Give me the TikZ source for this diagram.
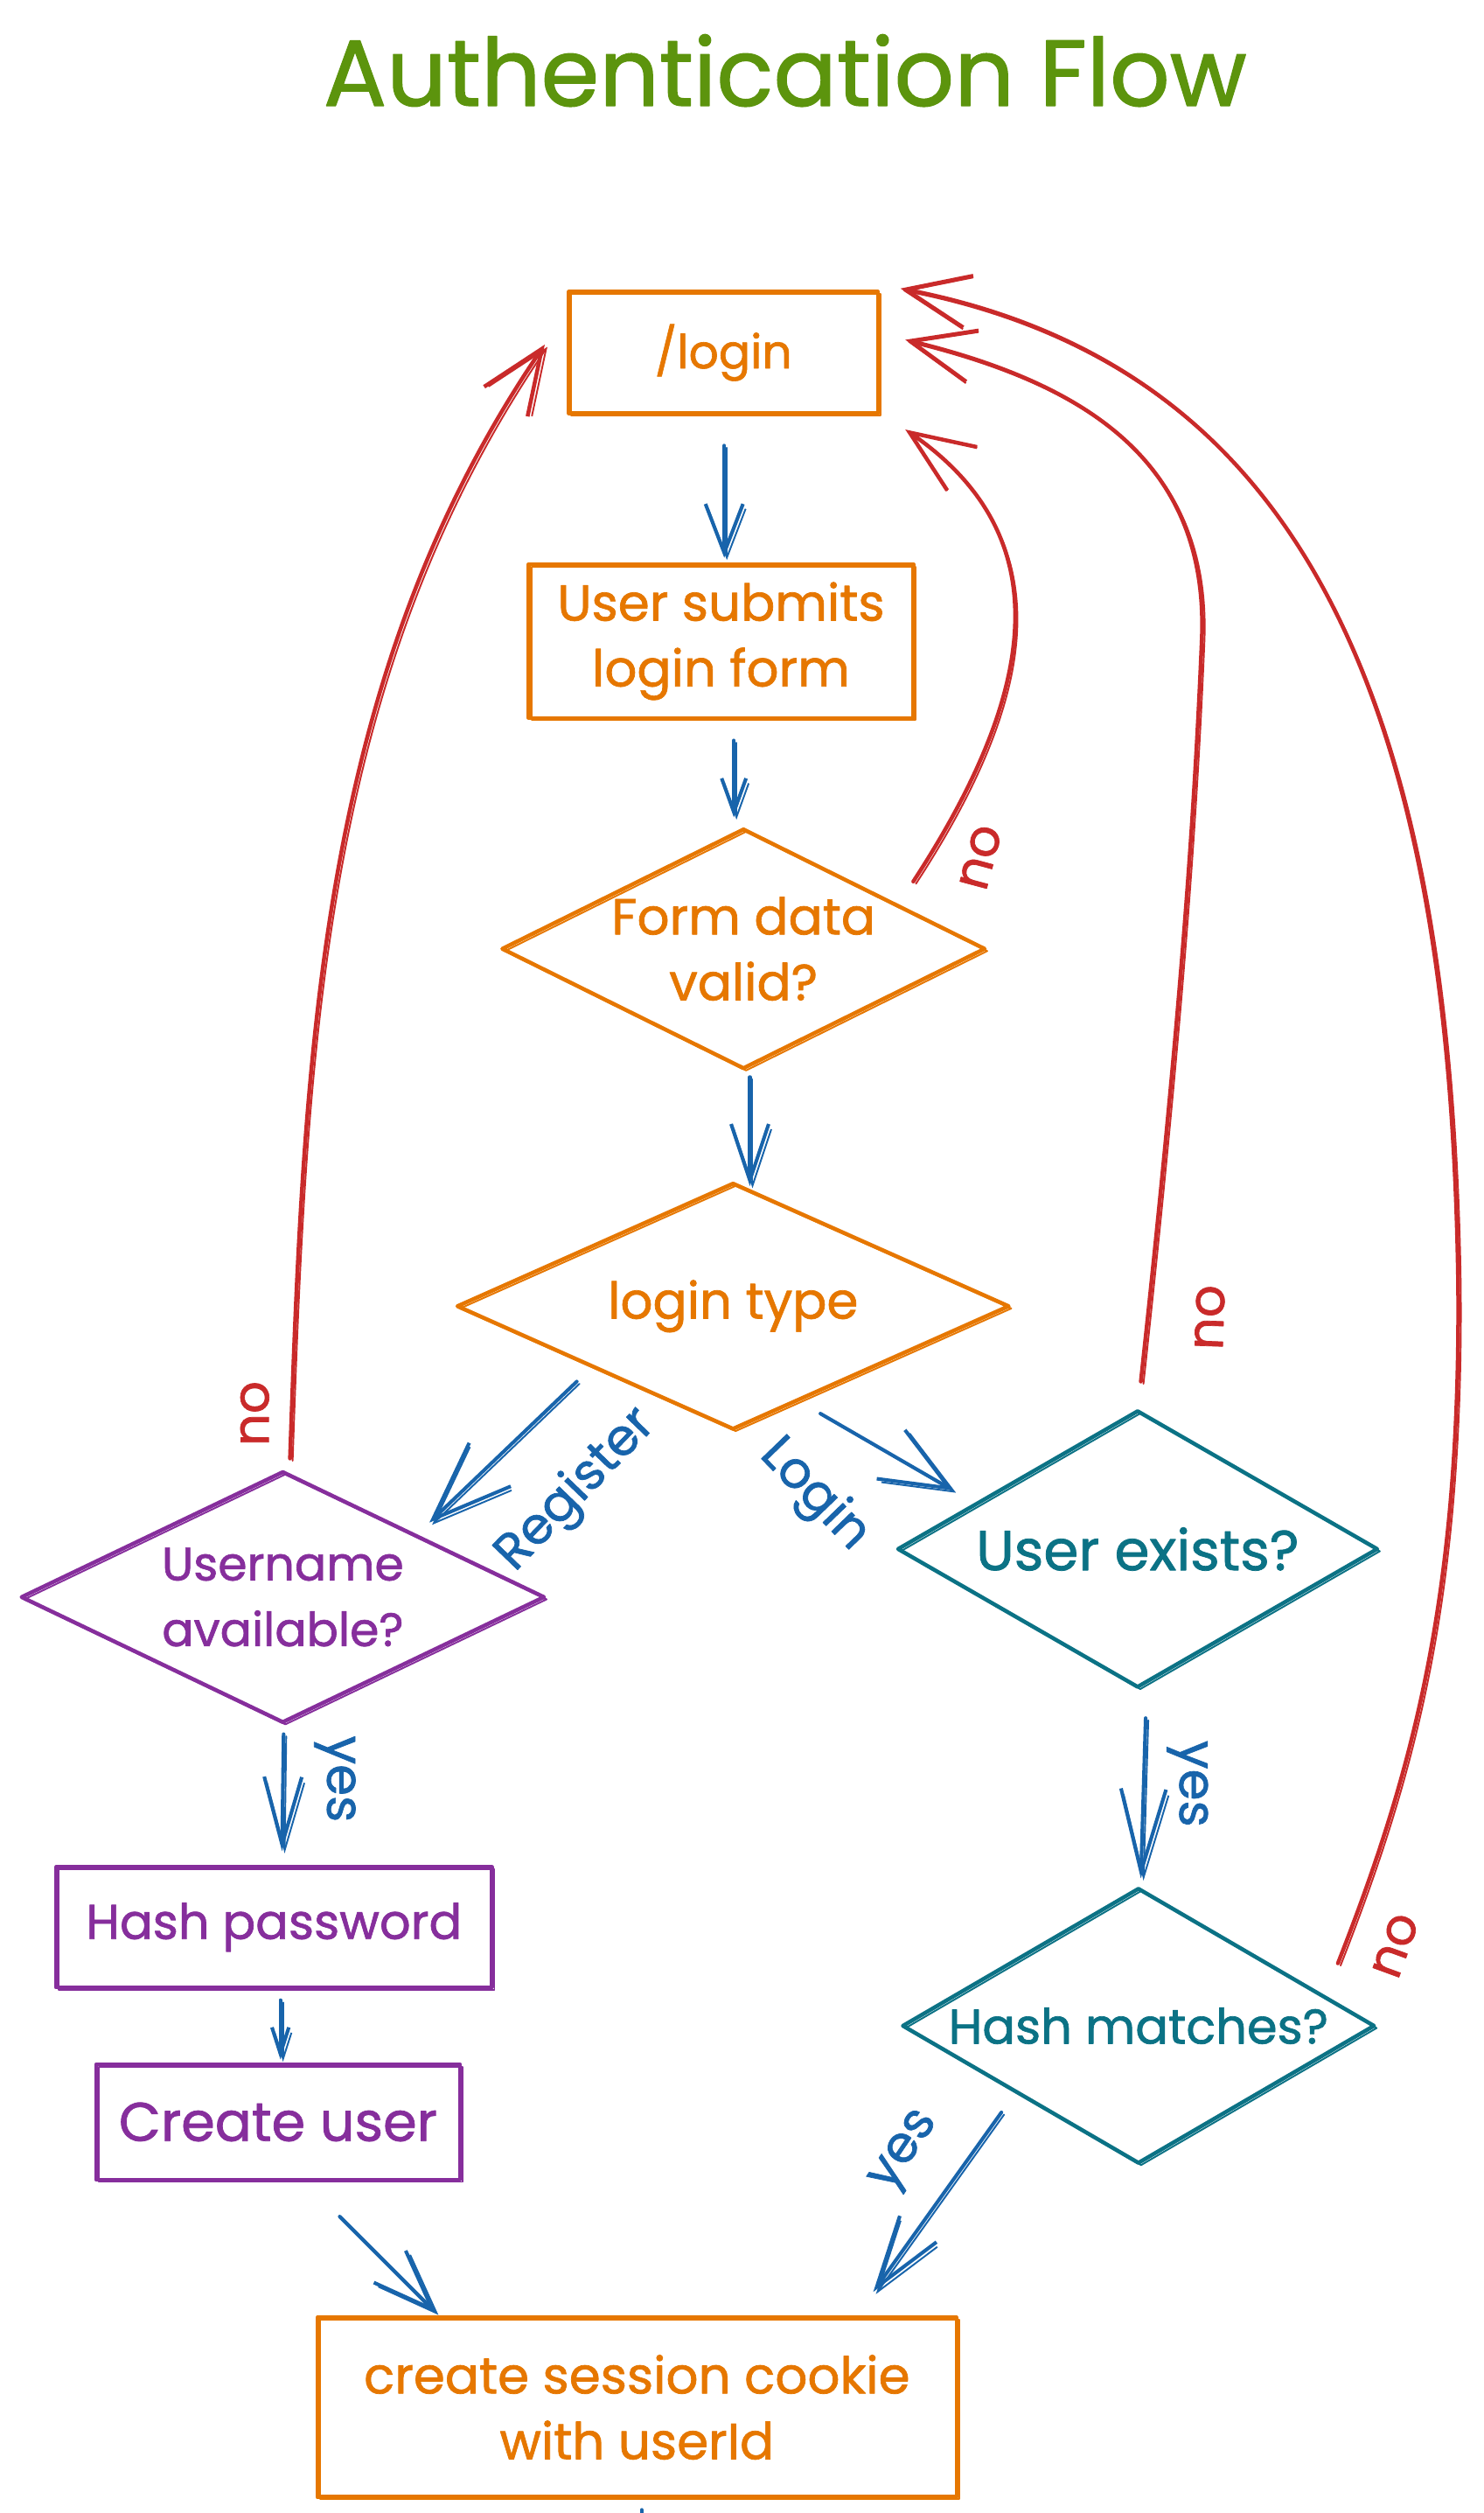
\documentclass[tikz,border=0pt]{standalone}
\usepackage{fontspec}
\setmainfont{Poppins}[FakeBold=1.2]
\usetikzlibrary{arrows.meta,shapes.geometric,calc}
\definecolor{cOrange}{HTML}{E67700}
\definecolor{cPurple}{HTML}{862E9C}
\definecolor{cTeal}{HTML}{0B7285}
\definecolor{cBlue}{HTML}{1864AB}
\definecolor{cRed}{HTML}{C92A2A}
\definecolor{cGreen}{HTML}{5C940D}
\begin{document}
\begin{tikzpicture}[x=0.03cm,y=-0.03cm,
  line cap=round, line join=round,
  txt/.style={font=\fontsize{27}{35}\selectfont, align=center},
  sketch/.style={postaction={draw, line width=0.9pt, transform canvas={shift={(1.4pt,-1.2pt)}}}},
  box/.style={draw, rectangle, line width=2.1pt, inner sep=0pt, txt, sketch},
  dia/.style={draw, diamond, line width=2.1pt, inner sep=0pt, sketch},
  flow/.style 2 args={cBlue, line width=1.9pt, -{Straight Barb[length=#1,width=#2]}, sketch},
  back/.style={cRed, line width=2.1pt, -{Straight Barb[length=34pt,width=28pt]}, sketch},
  lab/.style={txt, inner sep=0pt},
]
\fill[white] (0,0) rectangle (926,1568);
\useasboundingbox (0,0) rectangle (926,1568);

% title
\node[cGreen, font=\fontsize{50}{54}\selectfont] (title) at (490,44) {Authentication Flow};

% nodes
\node[box, cOrange, font=\fontsize{25}{33}\selectfont, minimum width=5.79cm, minimum height=2.28cm] (login) at (451.5,220) {/login};
\node[box, cOrange, minimum width=7.2cm, minimum height=2.88cm] (submit) at (450,400) {User submits\\login form};
\node[dia, cOrange, minimum width=9.06cm, minimum height=4.5cm,
      label={[txt,cOrange]center:{Form data\\valid?}}] (form) at (464,592) {};
\node[dia, cOrange, minimum width=10.35cm, minimum height=4.62cm,
      label={[txt,cOrange]center:{login type}}] (type) at (457.5,815) {};
\node[dia, cPurple, minimum width=9.81cm, minimum height=4.71cm,
      label={[txt,cPurple,font=\fontsize{25}{35}\selectfont]center:{Username\\available?}}] (uname) at (176.5,996.5) {};
\node[dia, cTeal, minimum width=9.0cm, minimum height=5.19cm,
      label={[txt,cTeal,font=\fontsize{30}{35}\selectfont]center:{User exists?}}] (uexists) at (710,966.5) {};
\node[box, cPurple, font=\fontsize{26}{33}\selectfont, minimum width=8.16cm, minimum height=2.25cm] (hashpw) at (171,1202.5) {Hash password};
\node[box, cPurple, font=\fontsize{29}{33}\selectfont, minimum width=6.81cm, minimum height=2.16cm] (create) at (173.5,1324) {Create user};
\node[dia, cTeal, minimum width=8.85cm, minimum height=5.16cm,
      label={[txt,cTeal,font=\fontsize{26}{35}\selectfont]center:{Hash matches?}}] (hmatch) at (710.5,1264) {};
\node[box, cOrange, minimum width=11.97cm, minimum height=3.36cm] (session) at (397.5,1502) {create session cookie\\with userId};

% blue flow arrows
\draw[flow={26pt}{20pt}] ($(login)+(0.5,58)$) -- ($(submit)+(2,-52)$);
\draw[flow={18pt}{13pt}] ($(submit)+(8,62)$) -- ($(form)+(-6,-82)$);
\draw[flow={30pt}{20pt}] ($(form)+(4,80)$) -- ($(type)+(10.5,-75)$);
\draw[flow={42pt}{32pt}] ($(type)+(-97.5,47)$) -- ($(uname)+(91.5,-46.5)$);
\draw[flow={36pt}{30pt}] ($(type)+(54.5,67)$) -- ($(uexists)+(-115,-36.5)$);
\draw[flow={36pt}{20pt}] ($(uname)+(0.5,85.5)$) -- ($(hashpw)+(5,-47.5)$);
\draw[flow={14pt}{9pt}] ($(hashpw)+(4,45.5)$) -- ($(create)+(1.5,-39)$);
\draw[flow={44pt}{24pt}] ($(uexists)+(5,105.5)$) -- ($(hmatch)+(1.5,-92)$);
\draw[flow={32pt}{24pt}] ($(create)+(38.5,59)$) -- ($(session)+(-125.5,-59)$);
\draw[flow={38pt}{24pt}] ($(hmatch)+(-85.5,54)$) -- ($(session)+(147.5,-72)$);
\draw[cBlue, line width=1.9pt] ($(session)+(3,64)$) -- ($(session)+(3,70)$);

% red back arrows
\draw[back] ($(uname)+(4.5,-86.5)$) .. controls (190,650) and (200,420) .. ($(login)+(-111.5,-5)$);
\draw[back] ($(form)+(106,-42)$) .. controls (655,420) and (655,330) .. ($(login)+(113.5,48)$);
\draw[back] ($(uexists)+(2,-104.5)$) .. controls (735,650) and (745,520) .. (750,400)
            .. controls (755,290) and (680,240) .. ($(login)+(113.5,-8)$);
\draw[back] ($(hmatch)+(124.5,-39)$) .. controls (880,1110) and (912,1000) .. (910,800)
            .. controls (905,450) and (820,230) .. ($(login)+(110.5,-40)$);

% labels
\node[lab, cBlue, rotate=46] (lreg) at (360,930) {Register};
\node[lab, cBlue, rotate=-46] (llog) at (508,933) {Login};
\node[lab, cBlue, rotate=-90] (lyes1) at (209,1110) {yes};
\node[lab, cBlue, rotate=-90] (lyes2) at (741,1113) {yes};
\node[lab, cBlue, rotate=56] (lyes3) at (566,1343) {yes};
\node[lab, cRed, rotate=90] (lno1) at (159,882) {no};
\node[lab, cRed, rotate=75] (lno2) at (612,535) {no};
\node[lab, cRed, rotate=88] (lno3) at (755,822) {no};
\node[lab, cRed, rotate=70] (lno4) at (871,1214) {no};
\end{tikzpicture}
\end{document}
